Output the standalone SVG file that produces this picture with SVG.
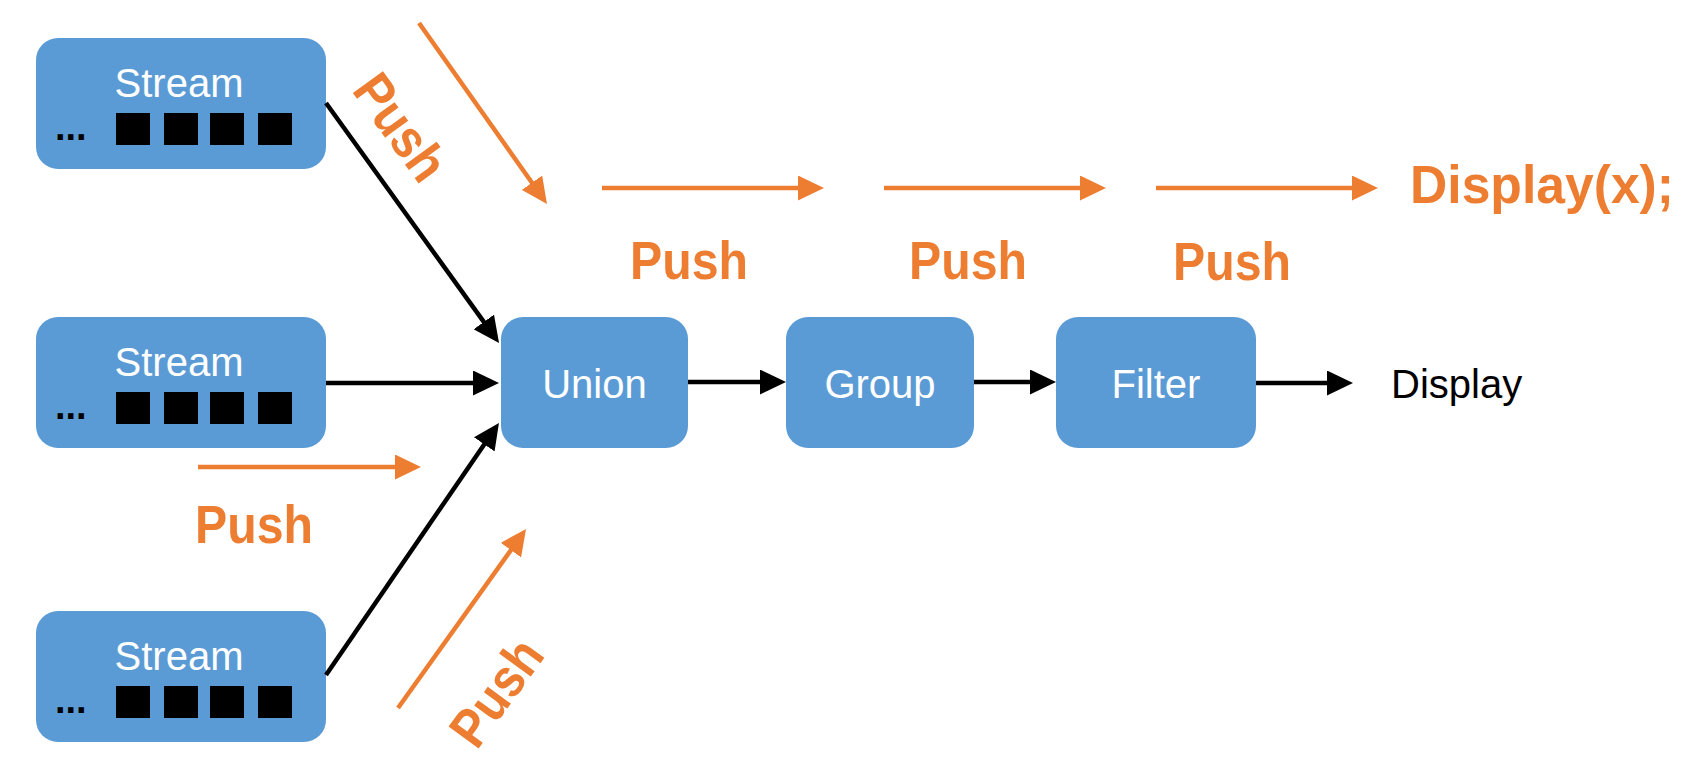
<svg xmlns="http://www.w3.org/2000/svg" width="1700" height="782" viewBox="0 0 1700 782">
<style>
.box{fill:#5B9BD5}
.lbl{font-family:"Liberation Sans",Arial,sans-serif;font-size:40px;fill:#fff;text-anchor:middle}
.sq{fill:#000}
.dots{font-family:"Liberation Sans",Arial,sans-serif;font-size:38px;font-weight:bold;fill:#000}
.push{font-family:"Liberation Sans",Arial,sans-serif;font-size:54px;font-weight:bold;fill:#ED7D31;text-anchor:middle}
.blk{stroke:#000;stroke-width:4.5;fill:none}
.org{stroke:#ED7D31;stroke-width:4.5;fill:none}
</style>
<defs>
<marker id="ab" markerUnits="userSpaceOnUse" markerWidth="26" markerHeight="25" refX="16" refY="12.5" orient="auto"><path d="M0,0 L26,12.5 L0,25 z" fill="#000"/></marker>
<marker id="ao" markerUnits="userSpaceOnUse" markerWidth="26" markerHeight="25" refX="16" refY="12.5" orient="auto"><path d="M0,0 L26,12.5 L0,25 z" fill="#ED7D31"/></marker>
</defs>
<rect width="1700" height="782" fill="#fff"/>
<g id="stream1">
<rect class="box" x="36" y="38" width="290" height="131" rx="22"/>
<text class="lbl" x="179" y="97">Stream</text>
<text class="dots" x="55" y="140">...</text>
<rect class="sq" x="116" y="113" width="34" height="32"/><rect class="sq" x="164" y="113" width="34" height="32"/><rect class="sq" x="210" y="113" width="34" height="32"/><rect class="sq" x="258" y="113" width="34" height="32"/>
</g>
<g id="stream2">
<rect class="box" x="36" y="317" width="290" height="131" rx="22"/>
<text class="lbl" x="179" y="376">Stream</text>
<text class="dots" x="55" y="419">...</text>
<rect class="sq" x="116" y="392" width="34" height="32"/><rect class="sq" x="164" y="392" width="34" height="32"/><rect class="sq" x="210" y="392" width="34" height="32"/><rect class="sq" x="258" y="392" width="34" height="32"/>
</g>
<g id="stream3">
<rect class="box" x="36" y="611" width="290" height="131" rx="22"/>
<text class="lbl" x="179" y="670">Stream</text>
<text class="dots" x="55" y="713">...</text>
<rect class="sq" x="116" y="686" width="34" height="32"/><rect class="sq" x="164" y="686" width="34" height="32"/><rect class="sq" x="210" y="686" width="34" height="32"/><rect class="sq" x="258" y="686" width="34" height="32"/>
</g>
<g id="union">
<rect class="box" x="501" y="317" width="187" height="131" rx="22"/>
<text class="lbl" x="594.5" y="398">Union</text>
</g>
<g id="group">
<rect class="box" x="786" y="317" width="188" height="131" rx="22"/>
<text class="lbl" x="880" y="398">Group</text>
</g>
<g id="filter">
<rect class="box" x="1056" y="317" width="200" height="131" rx="22"/>
<text class="lbl" x="1156" y="398">Filter</text>
</g>
<g id="display">
<text x="1391" y="398" font-family="'Liberation Sans',Arial,sans-serif" font-size="40" fill="#000">Display</text>
</g>
<g id="connectors">
<line class="blk" x1="326" y1="103" x2="493.2" y2="334.9" marker-end="url(#ab)"/>
<line class="blk" x1="326" y1="383" x2="489" y2="383" marker-end="url(#ab)"/>
<line class="blk" x1="326" y1="675" x2="493.3" y2="431.2" marker-end="url(#ab)"/>
<line class="blk" x1="688" y1="382" x2="776" y2="382" marker-end="url(#ab)"/>
<line class="blk" x1="974" y1="382" x2="1046" y2="382" marker-end="url(#ab)"/>
<line class="blk" x1="1256" y1="383" x2="1343" y2="383" marker-end="url(#ab)"/>
</g>
<g id="push-arrows">
<line class="org" x1="419" y1="23" x2="541.2" y2="195.8" marker-end="url(#ao)"/>
<line class="org" x1="602" y1="188" x2="814" y2="188" marker-end="url(#ao)"/>
<line class="org" x1="884" y1="188" x2="1096" y2="188" marker-end="url(#ao)"/>
<line class="org" x1="1156" y1="188" x2="1368" y2="188" marker-end="url(#ao)"/>
<line class="org" x1="198" y1="467" x2="411" y2="467" marker-end="url(#ao)"/>
<line class="org" x1="398" y1="708" x2="520.2" y2="537.1" marker-end="url(#ao)"/>
</g>
<g id="push-labels">
<text class="push" x="689" y="279" textLength="118" lengthAdjust="spacingAndGlyphs">Push</text>
<text class="push" x="968" y="279" textLength="118" lengthAdjust="spacingAndGlyphs">Push</text>
<text class="push" x="1232" y="280" textLength="118" lengthAdjust="spacingAndGlyphs">Push</text>
<text class="push" x="254" y="543" textLength="118" lengthAdjust="spacingAndGlyphs">Push</text>
<text class="push" transform="translate(401,127) rotate(54)" x="0" y="19" textLength="118" lengthAdjust="spacingAndGlyphs">Push</text>
<text class="push" transform="translate(496,692) rotate(-54)" x="0" y="19" textLength="118" lengthAdjust="spacingAndGlyphs">Push</text>
<text x="1410" y="203" font-family="'Liberation Sans',Arial,sans-serif" font-size="54" font-weight="bold" fill="#ED7D31" textLength="264" lengthAdjust="spacingAndGlyphs">Display(x);</text>
</g>
</svg>
